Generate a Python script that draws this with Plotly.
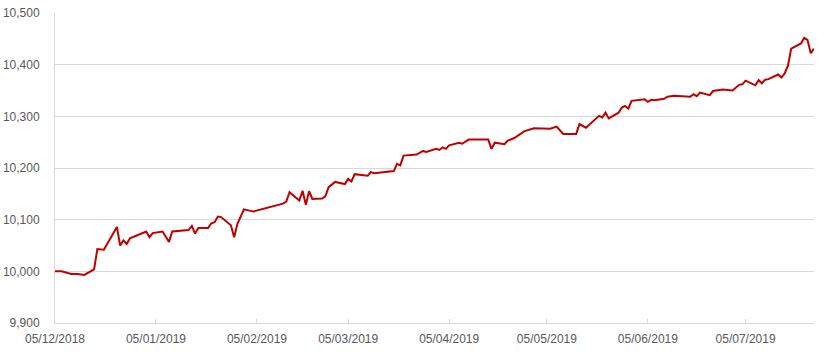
import plotly.graph_objects as go

dates = [
    "2018-12-05", "2018-12-07", "2018-12-10", "2018-12-12", "2018-12-14", "2018-12-17",
    "2018-12-18", "2018-12-20", "2018-12-24", "2018-12-25", "2018-12-26", "2018-12-27",
    "2018-12-28", "2019-01-02", "2019-01-03", "2019-01-04", "2019-01-07", "2019-01-09",
    "2019-01-10", "2019-01-15", "2019-01-16", "2019-01-17", "2019-01-18", "2019-01-21",
    "2019-01-22", "2019-01-23", "2019-01-24", "2019-01-25", "2019-01-28", "2019-01-29",
    "2019-01-30", "2019-02-01", "2019-02-03", "2019-02-04", "2019-02-13", "2019-02-14",
    "2019-02-15", "2019-02-18", "2019-02-19", "2019-02-20", "2019-02-21", "2019-02-22",
    "2019-02-25", "2019-02-26", "2019-02-27", "2019-03-01", "2019-03-04", "2019-03-05",
    "2019-03-06", "2019-03-07", "2019-03-11", "2019-03-12", "2019-03-13", "2019-03-19",
    "2019-03-20", "2019-03-21", "2019-03-22", "2019-03-26", "2019-03-28", "2019-03-29",
    "2019-04-01", "2019-04-02", "2019-04-03", "2019-04-04", "2019-04-05", "2019-04-08",
    "2019-04-09", "2019-04-11", "2019-04-17", "2019-04-18", "2019-04-19", "2019-04-22",
    "2019-04-23", "2019-04-25", "2019-04-28", "2019-05-01", "2019-05-06", "2019-05-08",
    "2019-05-10", "2019-05-14", "2019-05-15", "2019-05-17", "2019-05-21", "2019-05-22",
    "2019-05-23", "2019-05-24", "2019-05-27", "2019-05-28", "2019-05-29", "2019-05-30",
    "2019-05-31", "2019-06-04", "2019-06-05", "2019-06-06", "2019-06-07", "2019-06-10",
    "2019-06-11", "2019-06-13", "2019-06-18", "2019-06-19", "2019-06-20", "2019-06-21",
    "2019-06-24", "2019-06-25", "2019-06-28", "2019-07-01", "2019-07-03", "2019-07-04",
    "2019-07-05", "2019-07-08", "2019-07-09", "2019-07-10", "2019-07-11", "2019-07-12",
    "2019-07-15", "2019-07-16", "2019-07-17", "2019-07-18", "2019-07-19", "2019-07-21",
    "2019-07-22", "2019-07-23", "2019-07-24", "2019-07-25", "2019-07-26",
]

values = [
    10000, 10000, 9995, 9995, 9993, 10004,
    10043, 10042, 10086, 10050, 10060, 10053,
    10064, 10077, 10066, 10074, 10077, 10057,
    10077, 10080, 10088, 10073, 10084, 10084,
    10093, 10095, 10106, 10105, 10089, 10066,
    10092, 10120, 10117, 10116, 10131, 10135,
    10153, 10137, 10156, 10129, 10155, 10140,
    10141, 10145, 10163, 10173, 10169, 10179,
    10174, 10188, 10185, 10192, 10190, 10194,
    10208, 10205, 10224, 10226, 10233, 10231,
    10237, 10235, 10240, 10237, 10244, 10249,
    10247, 10255, 10255, 10237, 10249, 10246,
    10253, 10258, 10271, 10277, 10276, 10280,
    10266, 10266, 10285, 10278, 10301, 10298,
    10307, 10296, 10307, 10317, 10320, 10315,
    10330, 10333, 10328, 10332, 10331, 10334,
    10338, 10340, 10338, 10343, 10339, 10346,
    10341, 10349, 10352, 10350, 10361, 10362,
    10369, 10360, 10370, 10364, 10371, 10372,
    10381, 10375, 10383, 10398, 10431, 10437,
    10441, 10452, 10448, 10422, 10431,
]

x_ticks = ["2018-12-05", "2019-01-05", "2019-02-05", "2019-03-05",
           "2019-04-05", "2019-05-05", "2019-06-05", "2019-07-05"]
x_labels = ["05/12/2018", "05/01/2019", "05/02/2019", "05/03/2019",
            "05/04/2019", "05/05/2019", "05/06/2019", "05/07/2019"]
y_ticks = [9900, 10000, 10100, 10200, 10300, 10400, 10500]
y_labels = ["9,900", "10,000", "10,100", "10,200", "10,300", "10,400", "10,500"]

fig = go.Figure()
fig.add_trace(go.Scatter(
    x=dates, y=values, mode="lines",
    line=dict(color="#C00000", width=2),
    hoverinfo="x+y", showlegend=False,
))

fig.update_layout(
    width=832, height=356,
    margin=dict(l=55, r=18, t=13, b=33),
    paper_bgcolor="white", plot_bgcolor="white",
    font=dict(family="Liberation Sans, Arial, sans-serif", size=12, color="#595959"),
    xaxis=dict(
        type="date",
        range=["2018-12-05", "2019-07-26"],
        tickvals=x_ticks, ticktext=x_labels,
        showgrid=False, zeroline=False,
        showline=True, linecolor="#d9d9d9", linewidth=1,
        ticks="inside", ticklen=4, tickcolor="#d9d9d9",
        ticklabelstandoff=5,
        automargin=False,
    ),
    yaxis=dict(
        range=[9900, 10500],
        tickvals=y_ticks, ticktext=y_labels,
        showgrid=True, gridcolor="#d9d9d9", gridwidth=1,
        zeroline=False,
        showline=True, linecolor="#d9d9d9", linewidth=1,
        ticks="", ticklabelstandoff=12,
        automargin=False,
    ),
)

fig.write_html("out.html")
